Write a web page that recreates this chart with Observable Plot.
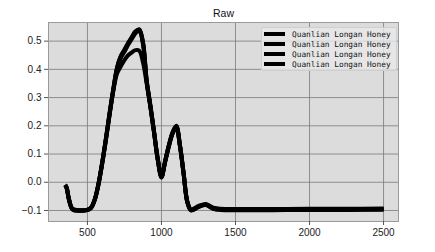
<!DOCTYPE html>
<html>
<head>
<meta charset="utf-8">
<script src="https://cdn.jsdelivr.net/npm/d3@7"></script>
<script src="https://cdn.jsdelivr.net/npm/@observablehq/plot@0.6"></script>
<style>
  html, body { margin: 0; padding: 0; background: #fff; }
  #wrap { position: relative; width: 435px; height: 252px; }
  #legend {
    position: absolute; left: 261px; top: 27px; width: 134px; height: 42px;
    background: rgba(232,232,232,0.8); border: 1px solid #cfcfcf; border-radius: 2px;
    font-family: "DejaVu Sans Mono", "Liberation Mono", monospace; font-size: 7.8px; color: #111;
  }
  .item { position: absolute; left: 2px; height: 10px; display: flex; align-items: center; }
  .sw { width: 21px; height: 3.5px; background: #000; margin-right: 7px; }
</style>
</head>
<body>
<div id="wrap"><div id="legend"></div></div>
<script>
const title = "Raw";
const seriesNames = ["Quanlian Longan Honey", "Quanlian Longan Honey", "Quanlian Longan Honey", "Quanlian Longan Honey"];
const xTicks = [500, 1000, 1500, 2000, 2500];
const yTicks = [-0.1, 0, 0.1, 0.2, 0.3, 0.4, 0.5];

const wavelength = [350, 360, 375, 400, 450, 500, 525, 550, 575, 600, 625, 650, 675, 700, 725, 750, 775, 800, 825, 850, 875, 900, 925, 950, 975, 1000, 1025, 1050, 1075, 1100, 1125, 1150, 1175, 1200, 1250, 1300, 1350, 1400, 1500, 1750, 2000, 2250, 2500];

const s1 = [-0.010, -0.020, -0.060, -0.095, -0.100, -0.098, -0.090, -0.060, -0.005, 0.070, 0.155, 0.245, 0.330, 0.405, 0.445, 0.468, 0.492, 0.513, 0.533, 0.540, 0.495, 0.360, 0.272, 0.178, 0.082, 0.020, 0.075, 0.130, 0.175, 0.198, 0.130, 0.030, -0.070, -0.098, -0.086, -0.079, -0.092, -0.096, -0.097, -0.097, -0.096, -0.096, -0.095];
const s2 = [-0.012, -0.022, -0.062, -0.097, -0.101, -0.099, -0.091, -0.062, -0.008, 0.066, 0.150, 0.240, 0.326, 0.400, 0.440, 0.462, 0.487, 0.508, 0.528, 0.535, 0.490, 0.356, 0.268, 0.175, 0.079, 0.017, 0.072, 0.127, 0.172, 0.195, 0.127, 0.027, -0.072, -0.100, -0.088, -0.081, -0.094, -0.098, -0.099, -0.099, -0.098, -0.098, -0.097];
const s3 = [-0.008, -0.018, -0.058, -0.094, -0.099, -0.097, -0.089, -0.059, -0.003, 0.072, 0.157, 0.247, 0.332, 0.407, 0.447, 0.470, 0.494, 0.515, 0.535, 0.542, 0.497, 0.362, 0.274, 0.180, 0.084, 0.022, 0.077, 0.132, 0.177, 0.200, 0.132, 0.032, -0.068, -0.096, -0.084, -0.077, -0.090, -0.094, -0.095, -0.095, -0.094, -0.094, -0.093];
const s4 = [-0.011, -0.021, -0.061, -0.096, -0.100, -0.098, -0.090, -0.061, -0.006, 0.068, 0.152, 0.242, 0.325, 0.385, 0.410, 0.433, 0.450, 0.460, 0.468, 0.466, 0.425, 0.350, 0.268, 0.176, 0.080, 0.018, 0.073, 0.128, 0.173, 0.196, 0.128, 0.028, -0.071, -0.099, -0.087, -0.080, -0.093, -0.097, -0.098, -0.098, -0.097, -0.097, -0.096];

const allSeries = [s1, s2, s3, s4];
const rows = allSeries.flatMap((s, k) => wavelength.map((w, i) => ({ w, v: s[i], k })));
const yFmt = d => d3.format(".1f")(d).replace("-", "\u2212");
const xFmt = d => String(d);

const chart = Plot.plot({
  width: 435,
  height: 252,
  marginLeft: 48,
  marginRight: 37,
  marginTop: 22,
  marginBottom: 31,
  style: { fontFamily: "'Liberation Sans', 'DejaVu Sans', sans-serif", fontSize: "10px", color: "#222", background: "#fff" },
  x: { domain: [237, 2601], label: null },
  y: { domain: [-0.139, 0.566], label: null },
  marks: [
    Plot.frame({ fill: "#dcdcdc", stroke: null }),
    Plot.gridX(xTicks, { stroke: "#7a7a7a", strokeOpacity: 1, strokeWidth: 0.8 }),
    Plot.gridY(yTicks, { stroke: "#7a7a7a", strokeOpacity: 1, strokeWidth: 0.8 }),
    Plot.frame({ stroke: "#9a9a9a", strokeWidth: 1 }),
    Plot.line(rows, { x: "w", y: "v", z: "k", stroke: "#000", strokeWidth: 4, curve: "catmull-rom", strokeLinejoin: "round", strokeLinecap: "butt" }),
    Plot.axisX(xTicks, { tickSize: 4, tickPadding: 3, stroke: "#555", fontSize: 10, tickFormat: xFmt, label: null }),
    Plot.axisY(yTicks, { tickSize: 4, tickPadding: 3, stroke: "#555", fontSize: 10, tickFormat: yFmt, label: null }),
    Plot.text([title], { frameAnchor: "top", lineAnchor: "middle", dy: -9, fontSize: 10.5, fill: "#111" })
  ]
});

const wrap = document.getElementById("wrap");
wrap.insertBefore(chart, wrap.firstChild);
const legend = document.getElementById("legend");
seriesNames.forEach((name, i) => {
  const item = document.createElement("div");
  item.className = "item";
  item.style.top = (1 + i * 10) + "px";
  item.innerHTML = '<span class="sw"></span><span></span>';
  item.lastChild.textContent = name;
  legend.appendChild(item);
});
</script>
</body>
</html>
